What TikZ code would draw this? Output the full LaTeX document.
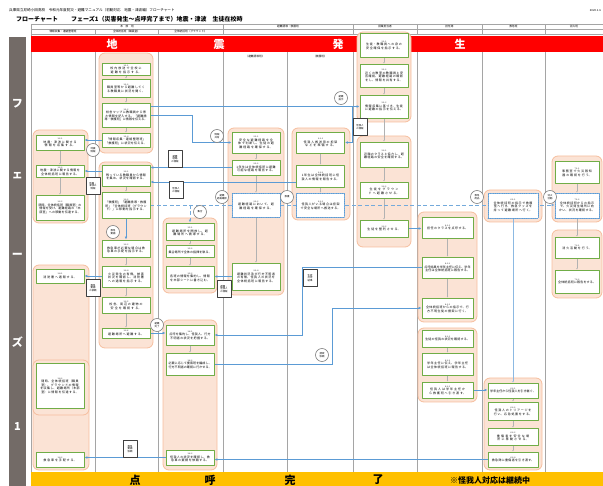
\documentclass[tikz,border=0pt]{standalone}
\usepackage{fontspec}
\setmainfont{Noto Sans CJK JP}
\XeTeXlinebreaklocale "ja"
\XeTeXlinebreakskip=0pt plus 1pt
\usetikzlibrary{arrows.meta,shadows}

\definecolor{bandred}{HTML}{FF0000}
\definecolor{bandgold}{HTML}{FFC000}
\definecolor{stripgray}{HTML}{736B67}
\definecolor{grpfill}{HTML}{FBE3D5}
\definecolor{grpline}{HTML}{F6BE9E}
\definecolor{boxgreen}{HTML}{70AD47}
\definecolor{flowblue}{HTML}{5B9BD5}
\definecolor{rulegray}{HTML}{A5A5A5}

\pgfdeclarelayer{grp}
\pgfdeclarelayer{wires}
\pgfsetlayers{grp,wires,main}

\newcommand{\stp}[2]{{\fontsize{2}{2.4}\selectfont #1}\\#2}

\tikzset{
  stepbox/.style={draw=boxgreen, line width=0.8pt, fill=white, align=center,
    inner xsep=1.5pt, inner ysep=0.8pt, minimum width=48pt, text width=44pt,
    font=\fontsize{3}{3.5}\selectfont},
  waitbox/.style={stepbox, draw=flowblue, line width=0.6pt, dash pattern=on 1pt off 0.8pt},
  kbox/.style={minimum width=51pt, text width=47pt},
  nbox/.style={minimum width=50pt, text width=46pt},
  obox/.style={minimum width=44pt, text width=40pt},
  group/.style={draw=grpline, fill=grpfill, line width=0.8pt, rounded corners=6pt},
  flow/.style={draw=flowblue, line width=0.9pt, -{Latex[length=3pt,width=2.6pt]}},
  flowdash/.style={flow, draw=flowblue!85, line width=0.8pt, dash pattern=on 4pt off 2.5pt},
  link/.style={draw=gray!60, line width=0.35pt, -{Latex[length=1.5pt,width=1.3pt]}},
  tag/.style={circle, draw=gray, line width=0.6pt, fill=white, minimum size=13pt,
    inner sep=0pt, align=center, font=\fontsize{2.4}{2.8}\selectfont},
  doc/.style={draw=black!75, line width=0.4pt, fill=white, minimum width=14pt,
    minimum height=17pt, inner sep=0.5pt, align=center, font=\fontsize{2.4}{2.8}\selectfont,
    drop shadow={shadow xshift=0.7pt, shadow yshift=-0.7pt, opacity=0.8, fill=black!70}},
  hdr/.style={font=\fontsize{2.7}{3}\selectfont, inner sep=0pt},
  bandtxt/.style={font=\bfseries\fontsize{11}{12}\selectfont, inner sep=0pt},
}

\begin{document}
\begin{tikzpicture}[x=1pt,y=-1pt,line cap=round,line join=round]
  \useasboundingbox (0,0) rectangle (603,486);

  % title lines
  \node[anchor=west, font=\fontsize{3.6}{4}\selectfont, inner sep=0pt] (src) at (9,10.5)
    {兵庫県立尼崎小田高校　令和元年度防災・避難マニュアル（初動対応　地震・津波編）フローチャート};
  \node[anchor=east, font=\fontsize{2.8}{3}\selectfont, inner sep=0pt] (date) at (601,10.5) {2020.1.6};
  \node[anchor=west, font=\bfseries\fontsize{6}{7}\selectfont, inner sep=0pt] (ttl) at (16,19) {フローチャート};
  \node[anchor=west, font=\bfseries\fontsize{6}{7}\selectfont, inner sep=0pt] (phase) at (71,19)
    {フェーズ1（災害発生～点呼完了まで）地震・津波　生徒在校時};

  \begin{pgfonlayer}{grp}
    % header table and columns
    \draw[rulegray, line width=0.6pt] (31,24) -- (603,24) (31,29.5) -- (603,29.5) (31,34) -- (603,34);
    \draw[rulegray, line width=0.8pt] (31,24) -- (31,472);
    \foreach \x in {223,353,417,482,545} {\draw[rulegray, line width=0.6pt] (\x,24) -- (\x,29.5);}
    \foreach \x in {95,158,223,353,417,482,545} {\draw[rulegray, line width=0.6pt] (\x,29.5) -- (\x,34);}
    \foreach \x in {95,158,223,287,353,417,482,545} {\draw[rulegray, line width=0.8pt] (\x,52) -- (\x,472);}
    % bands
    \fill[stripgray] (9,37) rectangle (26,486);
    \fill[bandred] (31,36) rectangle (603,52);
    \fill[bandgold] (31,472) rectangle (603,486);
    % groups
    \draw[group] (33,130) rectangle (88,223);
    \draw[group] (33,265) rectangle (89,470);
    \draw[group] (33,360) rectangle (89,415);
    \draw[group] (99,53) rectangle (153,153);
    \draw[group] (99,162) rectangle (153,348);
    \draw[group] (163,218) rectangle (217,293);
    \draw[group] (163,320) rectangle (217,470);
    \draw[group] (228,128) rectangle (284,295);
    \draw[group] (292,128) rectangle (350,220);
    \draw[group] (357,32) rectangle (411,122);
    \draw[group] (357,136) rectangle (411,247);
    \draw[group] (418,212) rectangle (477,322);
    \draw[group] (418,328) rectangle (477,402);
    \draw[group] (484,190) rectangle (542,222);
    \draw[group] (484,378) rectangle (542,470);
    \draw[group] (552,156) rectangle (602,222);
    \draw[group] (552,230) rectangle (602,298);
  \end{pgfonlayer}

  % header labels
  \node[hdr] (hmain) at (127,26.8) {本　部　班};
  \node[hdr] (hevac) at (288,26.8) {避難誘導・救護班};
  \node[hdr] (hteach) at (385,26.8) {授業担当者};
  \node[hdr] (hhr) at (449.5,26.8) {担任等};
  \node[hdr] (hcare) at (513.5,26.8) {救急班};
  \node[hdr] (hfire) at (574,26.8) {消火班};
  \node[hdr] (hinfo) at (63,31.8) {情報収集・連絡整理班};
  \node[hdr] (hoffice) at (126.5,31.8) {全体統括班（職員室）};
  \node[hdr] (hground) at (190.5,31.8) {全体統括班（グラウンド）};
  \node[hdr] (hguide) at (255,56.5) {（避難誘導班）};
  \node[hdr] (hrescue) at (320,56.5) {（救護班）};

  % band texts
  \node[bandtxt, white] (bj) at (112,44) {地};
  \node[bandtxt, white] (bs) at (219,44) {震};
  \node[bandtxt, white] (bh) at (338,44) {発};
  \node[bandtxt, white] (bo) at (460,44) {生};
  \node[bandtxt] (ct) at (135,480) {点};
  \node[bandtxt] (ck) at (210,480) {呼};
  \node[bandtxt] (kn) at (290,480) {完};
  \node[bandtxt] (ry) at (378,480) {了};
  \node[font=\bfseries\fontsize{8}{9}\selectfont, inner sep=0pt] (note) at (490,480) {※怪我人対応は継続中};
  \node[bandtxt, white] (s1) at (17.5,104) {フ};
  \node[bandtxt, white] (s2) at (17.5,176) {ェ};
  \node[bandtxt, white] (s3) at (17.5,256) {ー};
  \node[bandtxt, white] (s4) at (17.5,342) {ズ};
  \node[bandtxt, white] (s5) at (17.5,427) {1};

  % 情報収集・連絡整理班
  \node[stepbox, minimum height=15pt] (c1) at (60,142.5) {\stp{1-3-1}{地震・津波に関する情報を収集する。}};
  \node[stepbox, minimum height=12pt] (c2) at (60,171) {\stp{1-3-2}{地震・津波に関する情報を全体統括班に報告する。}};
  \node[stepbox, minimum height=25pt] (c3) at (60,207.5) {\stp{1-3-3}{随時、全体統括班（職員室）の情報を受け、避難経路の「本部室」への移動を伝達する。}};
  \node[stepbox, minimum height=14pt] (d1) at (60,276) {\stp{1-4-1}{消防署へ通報する。}};
  \node[stepbox, minimum height=45pt] (d2) at (60,385.5) {\stp{1-4-2}{随時、全体統括班（職員室）、グラウンドの情報を収集し、避難場所（本部室）に情報を伝達する。}};
  \node[stepbox, minimum height=15pt] (d3) at (60,459.5) {\stp{1-4-3}{救急車を手配する。}};

  % 全体統括班（職員室）
  \node[stepbox, minimum height=12pt] (a1) at (126,69) {\stp{1-1-1}{校内放送で全校に避難を指示する。}};
  \node[stepbox, minimum height=18pt] (a2) at (126,88) {\stp{1-1-2}{職員室等から避難してくる教職員に状況を聞く。}};
  \node[stepbox, minimum height=24pt] (a3) at (126,115) {\stp{1-1-3}{校舎マップに教職員から得た情報を記入する。「避難誘導・救護班」に情報を伝える。}};
  \node[stepbox, minimum height=14pt] (a4) at (126,140) {\stp{1-1-4}{「情報収集・連絡整理班」「救護班」に状況を伝える。}};
  \node[stepbox, minimum height=21pt] (b1) at (126,175.5) {\stp{1-2-1}{残っている教職員から情報を集め、状況を確認する。}};
  \node[stepbox, minimum height=26pt] (b2) at (126,205) {\stp{1-2-2}{「救護班」「避難誘導・救護班」「全体統括班（グラウンド）」に移動を指示する。}};
  \node[stepbox, minimum height=17pt] (b3) at (126,248.5) {\stp{1-2-3}{救急車が必要な場合は救急車の手配を指示する。}};
  \node[stepbox, minimum height=21pt] (b4) at (126,276.5) {\stp{1-2-4}{火災発生の有無、被害状況を確認し、消防署への通報を指示する。}};
  \node[stepbox, minimum height=16pt] (b5) at (126,305) {\stp{1-2-5}{校舎、周辺の建物の安全を確認する。}};
  \node[stepbox, minimum height=10pt] (b6) at (126,333) {\stp{1-2-6}{避難場所へ避難する。}};

  % 全体統括班（グラウンド）
  \node[stepbox, minimum height=17pt] (e1) at (190,231.5) {\stp{1-5-1}{避難場所を開放し、避難場所へ誘導する。}};
  \node[stepbox, minimum height=12pt] (e2) at (190,251) {\stp{1-5-2}{集合場所で全体の指揮を執る。}};
  \node[stepbox, minimum height=22pt] (e3) at (190,277) {\stp{1-5-3}{各班の情報を集約し、情報を本部シートに書き込む。}};
  \node[stepbox, minimum height=20pt] (f1) at (190,335) {\stp{1-6-1}{点呼を集約し、怪我人、行方不明者の状況を把握する。}};
  \node[stepbox, minimum height=22pt] (f2) at (190,364) {\stp{1-6-2}{必要に応じて捜索班を編成し、行方不明者の確認に行かせる。}};
  \node[stepbox, minimum height=15pt] (f3) at (190,457.5) {\stp{1-6-3}{怪我人の状況を確認し、救急車の要請を依頼する。}};

  % 避難誘導班
  \node[stepbox, minimum height=21pt] (g1) at (256,142.5) {\stp{2-1-1}{安全な避難経路を全体で判断し、生徒の避難経路を確保する。}};
  \node[stepbox, minimum height=15pt] (g2) at (256,167.5) {\stp{2-1-2}{1年生は全体統括班に避難可能な経路を報告する。}};
  \node[waitbox, minimum height=24pt] (g3) at (256,205) {\stp{2-1-3}{避難経路において、避難経路を確保する。}};
  \node[stepbox, minimum height=27pt] (g4) at (256,276.5) {\stp{2-1-4}{避難状況及び行方不明者の有無、怪我人の状況を全体統括班に報告する。}};

  % 救護班
  \node[stepbox, minimum height=21pt] (h1) at (320.5,142.5) {\stp{2-2-1}{怪我人搬送用の担架などを準備する。}};
  \node[stepbox, minimum height=22pt] (h2) at (320.5,176) {\stp{2-2-2}{1年生は全体統括班に怪我人の情報を報告する。}};
  \node[waitbox, minimum height=24pt] (h3) at (320.5,205) {\stp{2-2-3}{怪我人がいる場合は担架で安全な場所へ搬送する。}};

  % 授業担当者
  \node[stepbox, minimum height=24pt] (i1) at (384,45) {\stp{3-1-1}{生徒・教職員への身の安全確保を指示する。}};
  \node[stepbox, minimum height=23pt] (i2) at (384,75.5) {\stp{3-1-2}{近くの教室の教職員と安否確認、避難経路の確認をし、情報を共有する。}};
  \node[stepbox, minimum height=23pt] (i3) at (384,106.5) {\stp{3-1-3}{情報収集に基づき、生徒に避難の指示を伝える。}};
  \node[stepbox, minimum height=25pt] (j1) at (384,154.5) {\stp{3-2-1}{近隣のクラスと協力し、避難経路の安全を確認する。}};
  \node[stepbox, minimum height=16pt] (j2) at (384,190) {\stp{3-2-2}{生徒をグラウンドへ避難させる。}};
  \node[stepbox, minimum height=17pt] (j3) at (384,228.5) {\stp{3-2-3}{生徒を整列させる。}};

  % 担任等
  \node[stepbox, kbox, minimum height=21pt] (k1) at (447.5,227.5) {\stp{4-1-1}{担任のクラスを点呼する。}};
  \node[stepbox, kbox, minimum height=21pt] (k2) at (447.5,267.5) {\stp{4-1-2}{点呼結果を学年主任に伝え、学年主任は全体統括班に報告する。}};
  \node[stepbox, kbox, minimum height=20pt] (k3) at (447.5,308) {\stp{4-1-3}{全体統括班からの指示で、行方不明生徒の捜索に行く。}};
  \node[stepbox, kbox, minimum height=17pt] (l1) at (447.5,338.5) {\stp{4-2-1}{生徒の怪我の状況を確認する。}};
  \node[stepbox, kbox, minimum height=22pt] (l2) at (447.5,364) {\stp{4-2-2}{学年主任に伝え、学年主任は全体統括班に報告する。}};
  \node[stepbox, kbox, minimum height=16pt] (l3) at (447.5,390) {\stp{4-2-3}{怪我人は学年主任から救護班へ引き渡す。}};

  % 救急班
  \node[waitbox, nbox, minimum height=25pt] (m) at (513,205.5) {\stp{6-1-1}{全体統括班の指示で救護室へ行き、救急グッズを持って避難場所へ行く。}};
  \node[stepbox, nbox, minimum height=15pt] (n1) at (513,390.5) {\stp{6-2-1}{学年主任から怪我人を引き継ぐ。}};
  \node[stepbox, nbox, minimum height=18pt] (n2) at (513,411) {\stp{6-2-2}{怪我人のトリアージを行い、応急処置をする。}};
  \node[stepbox, nbox, minimum height=17pt] (n3) at (513,436.5) {\stp{6-2-3}{重傷者を安全な場所に移動させる。}};
  \node[stepbox, nbox, minimum height=15pt] (n4) at (513,459.5) {\stp{6-2-4}{救急隊に重傷者を引き渡す。}};

  % 消火班
  \node[stepbox, obox, minimum height=22pt] (o1) at (577,172) {\stp{7-1-1}{事務室で火災報知器の確認を行う。}};
  \node[waitbox, obox, minimum height=25pt] (o2) at (577,205.5) {\stp{7-1-2}{全体統括班からの指示で、火災発生場所に向かい、状況を確認する。}};
  \node[stepbox, obox, minimum height=21pt] (p1) at (577,247.5) {\stp{7-2-1}{消火活動を行う。}};
  \node[stepbox, obox, minimum height=23pt] (p2) at (577,281.5) {\stp{7-2-2}{全体統括班に報告をする。}};

  % tags and documents
  \node[tag] (t1) at (93,150) {地震\\情報};
  \node[tag] (t2) at (217,136) {情報\\共有};
  \node[tag] (t3) at (341,98) {避難\\指示};
  \node[tag] (t4) at (113,232) {救急\\要請};
  \node[tag] (t5) at (200,212) {集合};
  \node[tag] (t6) at (222,197) {避難\\経路確認};
  \node[tag] (t7) at (287,197) {救護};
  \node[tag] (t8) at (477,197) {救急\\用品};
  \node[tag] (t9) at (550,197) {消火\\活動};
  \node[tag] (t10) at (157,325) {避難\\完了};
  \node[tag] (t11) at (322,355) {捜索\\依頼};
  \node[doc] (dc1) at (175,159) {避難\\経路\\の情報};
  \node[doc] (dc2) at (176,190) {怪我人\\の情報};
  \node[doc] (dc3) at (93,186) {地震・\\津波の\\情報};
  \node[doc] (dc4) at (360,127) {怪我人\\の情報};
  \node[doc] (dc5) at (93,288) {救急\\要請\\の依頼};
  \node[doc] (dc6) at (224,289) {避難・\\怪我人\\の情報};
  \node[doc] (dc7) at (310,278) {生徒\\点呼\\結果};
  \node[doc] (dc8) at (130,449) {救急\\要請\\依頼};

  \begin{pgfonlayer}{wires}
    % steps inside a group
    \foreach \u/\v in {a1/a2,a2/a3,a3/a4,b1/b2,b3/b4,b4/b5,b5/b6,c1/c2,c2/c3,e1/e2,e2/e3,f1/f2,
                       g1/g2,g2/g3,g3/g4,h1/h2,h2/h3,i1/i2,i2/i3,i3/j1,j1/j2,j2/j3,k1/k2,k2/k3,
                       l1/l2,l2/l3,n1/n2,n2/n3,n3/n4,o1/o2,o2/p1,p1/p2}
      {\draw[link] (\u.south) -- (\v.north);}
    \draw[link, draw=flowblue!70] (m.south) -- (n1.north);
    % information flow
    \draw[flow] (a3.east |- i3.west) -- (i3.west);
    \coordinate (split) at (352,106.5);
    \draw[flow] (split) |- (h1.east);
    \draw[flow] (a3.east) -- ++(42,0) |- (g1.west);
    \draw[flow] (g2.west) -- (b1.east |- g2.west);
    \coordinate (h2out) at ([yshift=-6pt]h2.west);
    \draw[flow] (h2out) -- (b1.east |- h2out);
    \draw[flow] (a4.west) -- (c1.east |- a4.west);
    \draw[flow] (b1.west |- c2.east) -- (c2.east);
    \draw[flow] (b2.south) -- (b3.north);
    \draw[flow] (b4.west |- d1.east) -- (d1.east);
    \draw[flow] (b6.east) -- (f1.west |- b6.east);
    \draw[flow] (g4.west) -- (e3.east |- g4.west);
    \draw[flow] (j3.east) -- (k1.west |- j3.east);
    \draw[flow] (k2.west) -- ++(-119,0) |- (f1.east);
    \draw[flow] (f2.east) -- ++(118,0) |- (k3.west);
    \draw[flow] (l3.east) -- (n1.west |- l3.east);
    \draw[flow] (n4.west) -- (f3.east |- n4.west);
    \draw[flow] (f3.west) -- (d3.east |- f3.west);
    \draw[flowdash] (b2.east) -- (b2.east -| o2.west);
    \draw[flowdash] (b2.east -| e1.north) -- (e1.north);
  \end{pgfonlayer}
\end{tikzpicture}
\end{document}
